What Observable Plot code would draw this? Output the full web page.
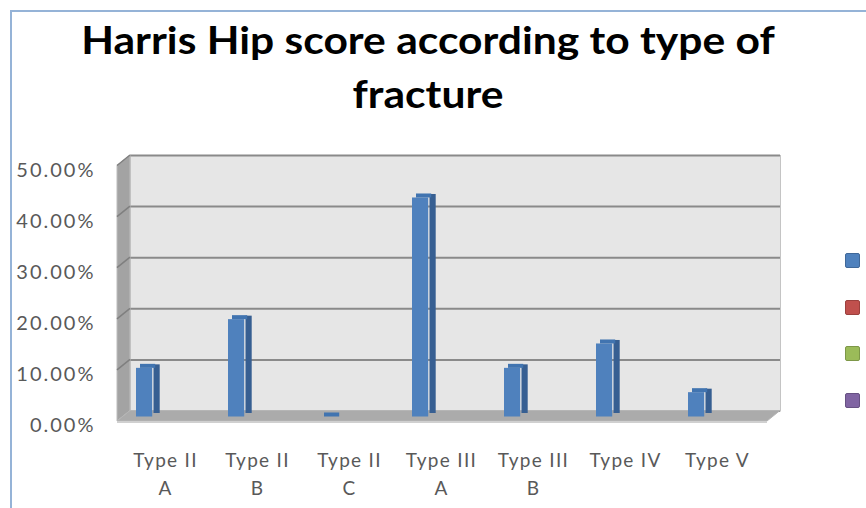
<!DOCTYPE html>
<html>
<head>
<meta charset="utf-8">
<script src="https://cdn.jsdelivr.net/npm/d3@7"></script>
<script src="https://cdn.jsdelivr.net/npm/@observablehq/plot@0.6"></script>
<style>
  html, body { margin: 0; padding: 0; background: #fff; }
  #wrap { position: relative; width: 866px; height: 508px; overflow: hidden; background: #fff; }
  #border { position: absolute; left: 10px; top: 10px; width: 900px; height: 600px;
            border-left: 2px solid #95b3d7; border-top: 2px solid #95b3d7; }
  #chart { position: absolute; left: 0; top: 0; }
  #title { position: absolute; left: 0; top: 12px; width: 856px; text-align: center;
           font-family: Lato, "Open Sans", sans-serif; font-weight: bold; font-size: 38px;
           line-height: 54px; color: #000; transform: scaleX(1.12); transform-origin: 428px 0; }
  .leg { position: absolute; left: 845px; width: 13px; height: 13px; border-radius: 2px; }
</style>
</head>
<body>
<div id="wrap">
  <div id="border"></div>
  <div id="chart"></div>
  <div id="title">Harris Hip score according to type of<br>fracture</div>
</div>
<script>
const categories = ["Type II A", "Type II B", "Type II C", "Type III A", "Type III B", "Type IV", "Type V"];
const labelLine1 = ["Type II", "Type II", "Type II", "Type III", "Type III", "Type IV", "Type V"];
const labelLine2 = ["A", "B", "C", "A", "B", "", ""];
const percentages = [9.52, 19.05, 0, 42.86, 9.52, 14.29, 4.76];
const yTicks = [0, 10, 20, 30, 40, 50];
const legendColors = ["#4f81bd", "#c0504d", "#9bbb59", "#8064a2"];
const legendY = [260, 307, 353, 400];

const rows = categories.map((c, i) => ({cat: c, v: percentages[i], l1: labelLine1[i], l2: labelLine2[i]}));

const chart = Plot.plot({
  width: 866,
  height: 508,
  marginLeft: 130,
  marginRight: 86,
  marginTop: 155,
  marginBottom: 97.5,
  style: {fontFamily: "Lato, 'Open Sans', sans-serif", background: "transparent", overflow: "visible"},
  x: {domain: categories, padding: 0, axis: null},
  y: {domain: [0, 50], axis: null},
  marks: [
    Plot.frame({fill: "#e6e6e6", stroke: "#c4c4c4"}),
    Plot.ruleY(yTicks, {stroke: "#8a8a8a", strokeWidth: 2}),
    // side face of each 3D column
    Plot.barY(rows, {x: "cat", y: "v", fill: "#375f92", insetLeft: 42.9, insetRight: 42.9, dx: -22.4, dy: 2.5}),
    // front face
    Plot.barY(rows, {x: "cat", y: "v", fill: "#4f81bd", insetLeft: 37.9, insetRight: 37.9, dx: -34.9, dy: 6}),
    // top face
    Plot.barY(rows, {x: "cat", y1: "v", y2: "v", fill: "#4174b0", insetLeft: 38.4, insetRight: 38.4, insetTop: -4, dx: -31.4, dy: 6}),
    Plot.text(yTicks, {y: d => d, text: d => d.toFixed(2) + "%", frameAnchor: "left", textAnchor: "end",
      dx: -35, dy: 15, fill: "#595959", fontSize: 20}),
    Plot.text(rows, {x: "cat", text: "l1", frameAnchor: "bottom", dx: -14, dy: 56, fill: "#595959", fontSize: 19}),
    Plot.text(rows, {x: "cat", text: "l2", frameAnchor: "bottom", dx: -14, dy: 84, fill: "#595959", fontSize: 19})
  ]
});

document.getElementById("chart").appendChild(chart);

// widen the label lettering a little, like the reference
const textGroups = chart.querySelectorAll('g[aria-label="text"]');
textGroups.forEach((tg, i) => {
  tg.style.letterSpacing = i === 0 ? "2px" : "1.3px";
});

// 3D decoration (left wall, floor) derived from the plot's own scales
const yScale = chart.scale("y");
const xScale = chart.scale("x");
const ys = d3.scaleLinear(yScale.domain, yScale.range);
const [xl, xr] = xScale.range;
const yb = ys(0), yt = ys(50);
const ddx = 13, ddy = 10.5;
const firstBar = chart.querySelector('g[aria-label="bar"]');
const deco = document.createElementNS("http://www.w3.org/2000/svg", "g");
chart.insertBefore(deco, firstBar);
const g = d3.select(deco);
g.append("polygon")
  .attr("points", [[xl - ddx, yt + ddy], [xl, yt], [xl, yb], [xl - ddx, yb + ddy]].map(p => p.join(",")).join(" "))
  .attr("fill", "#a3a3a3").attr("stroke", "#bdbdbd");
g.selectAll("line.slant").data(yTicks.filter(t => t > 0)).join("line")
  .attr("x1", xl - ddx).attr("y1", d => ys(d) + ddy)
  .attr("x2", xl).attr("y2", d => ys(d))
  .attr("stroke", "#7f7f7f").attr("stroke-width", 1.5);
g.append("polygon")
  .attr("points", [[xl, yb], [xr, yb], [xr - ddx, yb + ddy], [xl - ddx, yb + ddy]].map(p => p.join(",")).join(" "))
  .attr("fill", "#ababab").attr("stroke", "#b5b5b5");
g.append("polygon")
  .attr("points", [[xl - ddx, yb + ddy], [xr - ddx, yb + ddy], [xr - ddx, yb + ddy + 2], [xl - ddx, yb + ddy + 2]].map(p => p.join(",")).join(" "))
  .attr("fill", "#d0d0d0");

// legend markers
const wrap = document.getElementById("wrap");
legendColors.forEach((c, i) => {
  const d = document.createElement("div");
  d.className = "leg";
  d.style.top = (legendY[i] - 7) + "px";
  d.style.background = c;
  d.style.border = "1px solid " + d3.color(c).darker(0.6);
  wrap.appendChild(d);
});
</script>
</body>
</html>
